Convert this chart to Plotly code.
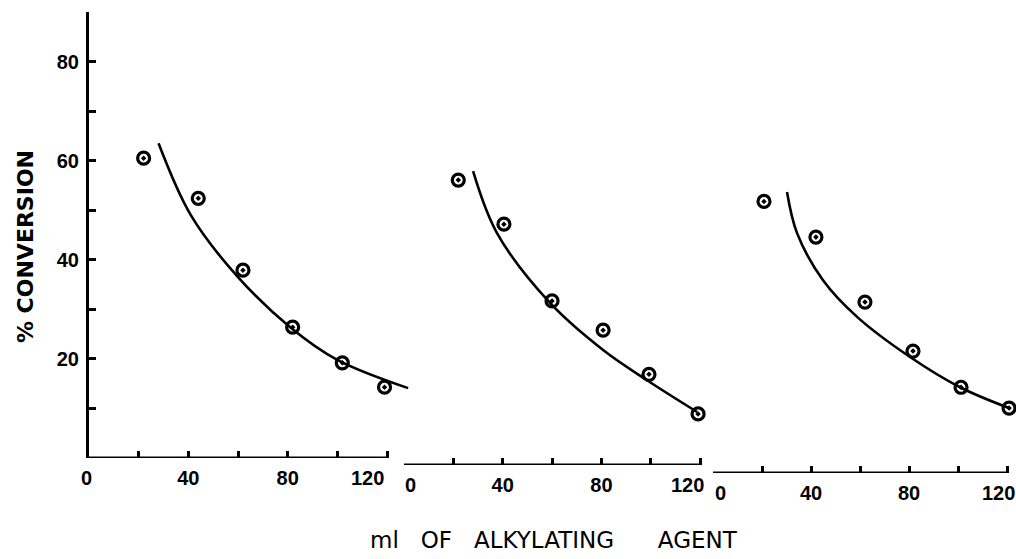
import plotly.graph_objects as go

# ---- data ----
p1_x = [22, 44, 62, 82, 102, 119]
p1_y = [60.5, 52.4, 37.9, 26.4, 19.2, 14.3]
fit1_x = [28, 41, 60, 81, 100, 128.5]
fit1_y = [63.5, 49.0, 36.5, 26.4, 19.8, 14.1]

p2_x = [22, 40.5, 60, 80.7, 99.3, 119.2]
p2_y = [57.5, 48.6, 33.1, 27.2, 18.3, 10.3]
fit2_x = [28, 37.7, 59.2, 80.7, 98.5, 118.8]
fit2_y = [59.3, 46.8, 32.7, 23.2, 17.1, 10.7]

p3_x = [20.8, 42.0, 62.0, 81.6, 101.2, 120.8]
p3_y = [54.8, 47.6, 34.5, 24.6, 17.3, 13.1]
fit3_x = [30.2, 34.3, 44.9, 58.8, 80.4, 100.8, 120.8]
fit3_y = [56.7, 48.4, 38.9, 31.5, 23.4, 17.3, 13.1]

x_inner_ticks = [40, 80]
x_inner_text = ["40", "80"]
x_end_ticks = [0, 120]
x_end_text = ["0", "120"]
x_minor = [20, 60, 100]
y_major = [20, 40, 60, 80]
y_minor = [10, 30, 50, 70]
y_ticktext = ["20", "40", "60", "80"]

panels = [(p1_x, p1_y, fit1_x, fit1_y), (p2_x, p2_y, fit2_x, fit2_y), (p3_x, p3_y, fit3_x, fit3_y)]
W, H = 1016, 559
x_domains = [[89 / W, 410.6 / W], [404 / W, 705 / W], [713 / W, 1012 / W]]
x_ranges = [[0, 129.5], [0, 122], [0, 122]]
PH = 461
y_domains = [[15 / PH, 1.0], [8 / PH, 454 / PH], [0.0, 446 / PH]]
end_label_shift = [(-3, -20), (6, -13), (7, -9)]

TF = "Liberation Sans"
LF = "DejaVu Sans"
fig = go.Figure()
for i, (px, py, fx, fy) in enumerate(panels):
    xa = "x" if i == 0 else f"x{i+1}"
    ya = "y" if i == 0 else f"y{i+1}"
    fig.add_trace(go.Scatter(x=fx, y=fy, mode="lines", line=dict(color="black", width=2.6, shape="spline"),
                             xaxis=xa, yaxis=ya, showlegend=False, hoverinfo="skip"))
    fig.add_trace(go.Scatter(x=px, y=py, mode="markers",
                             marker=dict(symbol="circle-open-dot", size=12, color="black",
                                         line=dict(width=3.2, color="black")),
                             xaxis=xa, yaxis=ya, showlegend=False, cliponaxis=False))
    fig.add_shape(type="line", xref=xa, yref=ya, x0=0, x1=120, y0=0, y1=0,
                  line=dict(color="black", width=3))
    for v, t, s in zip(x_end_ticks, x_end_text, end_label_shift[i]):
        fig.add_annotation(text=t, xref=xa, yref=ya, x=v, y=0, xshift=s, yshift=-20,
                           showarrow=False, xanchor="center", yanchor="middle",
                           font=dict(size=20, family=TF, weight="bold"))

layout = dict(
    width=W, height=H,
    margin=dict(l=0, r=0, t=12, b=H - 12 - PH, autoexpand=False),
    paper_bgcolor="white", plot_bgcolor="rgba(0,0,0,0)",
    font=dict(family=TF, color="black"),
    showlegend=False,
)
for i in range(3):
    key = "xaxis" if i == 0 else f"xaxis{i+1}"
    ykey = "yaxis" if i == 0 else f"yaxis{i+1}"
    yanchor = "y" if i == 0 else f"y{i+1}"
    xanchor = "x" if i == 0 else f"x{i+1}"
    layout[key] = dict(domain=x_domains[i], range=x_ranges[i], anchor=yanchor, automargin=False,
                       showline=False, showgrid=False, zeroline=False,
                       tickmode="array", tickvals=x_inner_ticks, ticktext=x_inner_text,
                       ticks="inside", ticklen=7, tickwidth=2.5, tickcolor="black",
                       ticklabelstandoff=6,
                       tickfont=dict(size=20, family=TF, weight="bold"),
                       minor=dict(tickmode="array", tickvals=x_minor + x_end_ticks, ticks="inside", ticklen=7,
                                  tickwidth=2.5, tickcolor="black", showgrid=False),
                       fixedrange=True)
    if i == 0:
        layout[ykey] = dict(domain=y_domains[i], range=[0, 90], anchor=xanchor, automargin=False,
                            showline=True, linecolor="black", linewidth=3,
                            showgrid=False, zeroline=False,
                            tickmode="array", tickvals=y_major, ticktext=y_ticktext,
                            ticks="inside", ticklen=7, tickwidth=2.5, tickcolor="black",
                            ticklabelstandoff=3,
                            tickfont=dict(size=20, family=TF, weight="bold"),
                            minor=dict(tickmode="array", tickvals=y_minor, ticks="inside", ticklen=7,
                                       tickwidth=2.5, tickcolor="black", showgrid=False),
                            fixedrange=True)
    else:
        layout[ykey] = dict(domain=y_domains[i], range=[0, 90], anchor=xanchor, automargin=False,
                            visible=False, fixedrange=True)

fig.update_layout(**layout)

NB = "\u00a0"
fig.add_annotation(text="% CONVERSION", xref="paper", yref="paper", x=25 / W, y=0.49,
                   textangle=-90, showarrow=False, xanchor="center", yanchor="middle",
                   font=dict(size=22, family=LF, weight="bold"))
fig.add_annotation(text="ml" + NB * 3 + "OF" + NB * 3 + "ALKYLATING" + NB * 6 + "AGENT",
                   xref="paper", yref="paper", x=554 / W, y=-0.145,
                   showarrow=False, xanchor="center", yanchor="middle",
                   font=dict(size=23, family=LF))

fig.write_html("out.html", config={"displayModeBar": False},
               post_script="document.body.style.margin='0';document.body.style.overflow='hidden';")
